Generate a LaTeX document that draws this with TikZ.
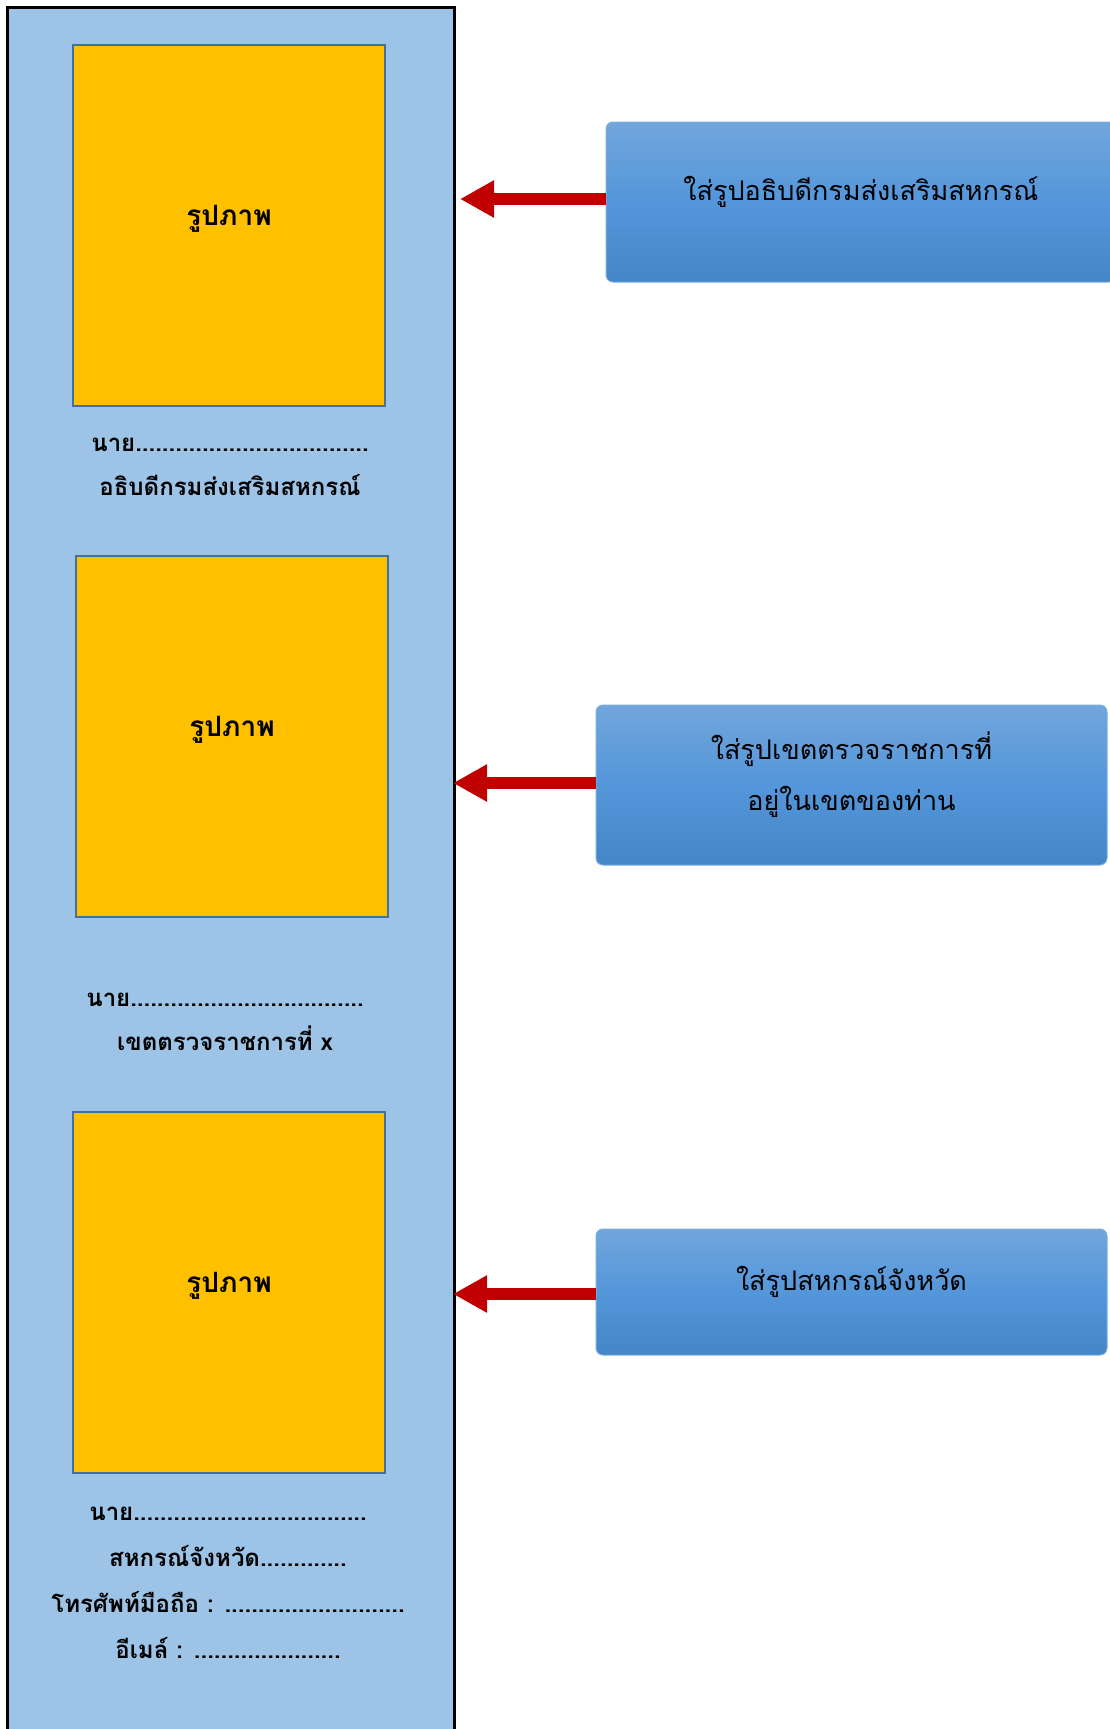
\documentclass[tikz,border=0pt]{standalone}
\usepackage{fontspec}
\newfontfamily\thaifont[Script=Thai]{Loma}
\usepackage{tikz}
\usetikzlibrary{arrows.meta,positioning}
\definecolor{panelblue}{RGB}{157,195,230}
\definecolor{picyellow}{RGB}{255,192,0}
\definecolor{picedge}{RGB}{65,113,156}
\definecolor{notetop}{RGB}{113,166,220}
\definecolor{notemid}{RGB}{84,150,218}
\definecolor{notebot}{RGB}{67,135,199}
\definecolor{noteedge}{RGB}{125,172,222}
\definecolor{arrowred}{RGB}{192,0,0}
\newcommand{\picw}{312pt}
\newcommand{\pich}{361pt}

\begin{document}
\begin{tikzpicture}[x=1pt, y=-1pt,
    panel/.style={draw=black, line width=2.5pt, fill=panelblue},
    photo/.style={draw=picedge, line width=2pt, fill=picyellow, minimum width=\picw, minimum height=\pich,
        label={[yshift=6pt, font=\thaifont\bfseries\fontsize{28}{34}\selectfont]center:รูปภาพ}},
    caption/.style={align=center, font=\thaifont\bfseries\fontsize{24}{44}\selectfont},
    note/.style={draw=noteedge, line width=1pt, rounded corners=7pt, top color=notetop, bottom color=notebot,
        middle color=notemid, minimum height=160pt},
    notetext/.style={yshift=10pt, align=center, font=\thaifont\fontsize{27}{51}\selectfont},
    toward/.style={draw=arrowred, line width=12pt, -{Triangle[length=34pt,width=35pt]}}]
        %\draw[help lines] (0,0) grid (1110,1729);
        \useasboundingbox (0,0) rectangle (1110,1729);
        \node[panel, anchor=north west, minimum width=447pt, minimum height=1800pt] (panel) at (6,6) {};
        % pictures
        \node[photo] (pic1) at (229,225) {};
        \node[photo] (pic2) at (232,736) {};
        \node[photo] (pic3) at (229,1292) {};
        \node[caption] (cap1) at (230,467) {นาย...................................\\อธิบดีกรมส่งเสริมสหกรณ์};
        \node[caption] (cap2) at (225,1022) {นาย...................................\\เขตตรวจราชการที่ x};
        \node[caption, font=\thaifont\bfseries\fontsize{24}{46}\selectfont] (cap3) at (228,1583)
            {นาย...................................\\สหกรณ์จังหวัด.............\\โทรศัพท์มือถือ : ...........................\\อีเมล์ : ......................};
        % notes on the right
        \node[note, minimum width=510pt, label={[notetext]center:ใส่รูปอธิบดีกรมส่งเสริมสหกรณ์}] (noteA) at (861,202) {};
        \node[note, minimum width=511pt, label={[notetext]center:ใส่รูปเขตตรวจราชการที่\\อยู่ในเขตของท่าน}] (noteB) at (851.5,785) {};
        \node[note, minimum width=511pt, minimum height=126pt, label={[notetext]center:ใส่รูปสหกรณ์จังหวัด}] (noteC) at (851.5,1292) {};
        \coordinate (tipA) at (460,199);
        \coordinate (tipB) at (453,783);
        \coordinate (tipC) at (453,1294);
        \draw[toward] (noteA.west |- tipA) -- (tipA);
        \draw[toward] (noteB.west |- tipB) -- (tipB);
        \draw[toward] (noteC.west |- tipC) -- (tipC);
\end{tikzpicture}
\end{document}
